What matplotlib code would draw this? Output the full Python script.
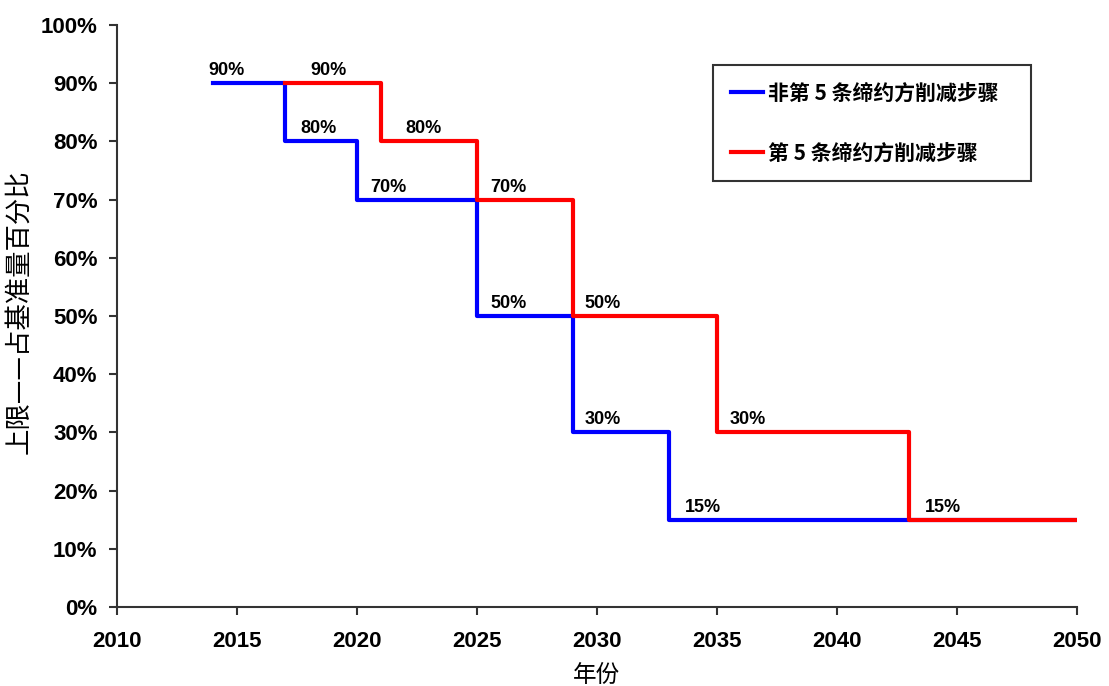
import matplotlib
matplotlib.use("Agg")
import matplotlib.pyplot as plt
from matplotlib.ticker import FuncFormatter

plt.rcParams['font.family'] = ['Noto Sans CJK SC', 'DejaVu Sans']

# step data: year where each level starts, plus the end year
blue_years = [2014, 2017, 2020, 2025, 2029, 2033, 2050]
blue_vals = [90, 80, 70, 50, 30, 15, 15]
red_years = [2017, 2021, 2025, 2029, 2035, 2043, 2050]
red_vals = [90, 80, 70, 50, 30, 15, 15]
blue_name = "非第 5 条缔约方削减步骤"
red_name = "第 5 条缔约方削减步骤"

# horizontal shift of each value label (pixels from the step start)
blue_dx = [-5, 15, 13, 13, 12, 16]
red_dx = [25, 24, 13, 12, 13, 16]

fig = plt.figure(figsize=(11.09, 6.86), dpi=100)
ax = fig.add_axes([0.1055, 0.115, 0.8655, 0.8485])

ax.plot(blue_years, blue_vals, drawstyle='steps-post', color='#0000ff', lw=3, label=blue_name)
ax.plot(red_years, red_vals, drawstyle='steps-post', color='#ff0000', lw=3, label=red_name)

lab_font = dict(family=['Liberation Sans', 'DejaVu Sans'], weight='bold', fontsize=13)
for yrs, vals, dxs in [(blue_years, blue_vals, blue_dx), (red_years, red_vals, red_dx)]:
    for x, v, dx in zip(yrs[:-1], vals[:-1], dxs):
        ax.annotate(f"{v}%", (x, v), xytext=(dx, 4), textcoords='offset pixels',
                    ha='left', va='bottom', **lab_font)

ax.set_xlim(2010, 2050)
ax.set_ylim(0, 100)
ax.set_xticks(range(2010, 2051, 5))
ax.set_yticks(range(0, 101, 10))
ax.yaxis.set_major_formatter(FuncFormatter(lambda v, p: f"{int(v)}%"))
for t in ax.get_xticklabels() + ax.get_yticklabels():
    t.set_fontfamily(['Liberation Sans', 'DejaVu Sans'])
    t.set_fontweight('bold')
    t.set_fontsize(16)
ax.tick_params(axis='x', direction='out', length=6, width=1.5, color='#333333', pad=11)
ax.tick_params(axis='y', direction='out', length=6, width=1.5, color='#333333', pad=8)
ax.spines['top'].set_visible(False)
ax.spines['right'].set_visible(False)
for s in ['left', 'bottom']:
    ax.spines[s].set_linewidth(1.5)
    ax.spines[s].set_color('#333333')

ax.set_xlabel("年份", fontsize=17)
ax.xaxis.set_label_coords(0.5, -0.097)
ax.set_ylabel("上限——占基准量百分比", fontsize=19)
ax.yaxis.set_label_coords(-0.088, 0.507)

leg = ax.legend(loc='upper left', bbox_to_anchor=(0.621, 0.727, 0.331, 0.205), mode='expand',
                frameon=True, fancybox=False, edgecolor='black',
                prop={'family': ['Noto Sans CJK SC', 'DejaVu Sans'], 'size': 15, 'weight': 'bold'},
                handlelength=1.55, labelspacing=1.85, borderpad=0.87, handletextpad=0.2,
                borderaxespad=0)
leg.get_frame().set_linewidth(1.5)

fig.savefig("out.png", dpi=100)
